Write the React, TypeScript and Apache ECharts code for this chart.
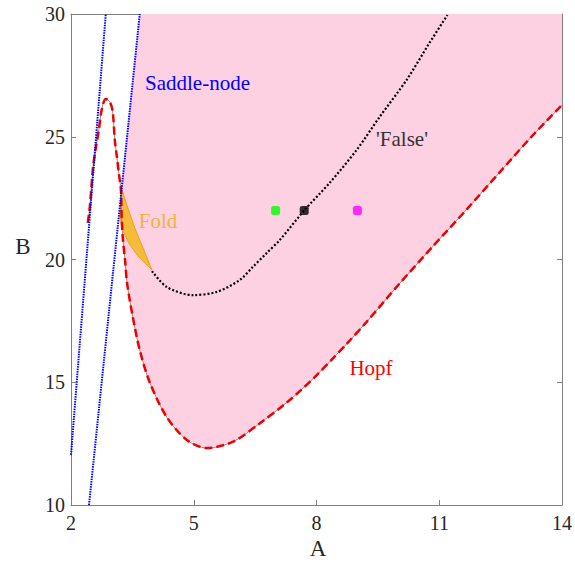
import React, { useEffect, useRef } from "react";
import * as echarts from "echarts";

const xTicks = [2, 5, 8, 11, 14];
const yTicks = [10, 15, 20, 25, 30];

const saddle1A = [2.0, 2.85];
const saddle1B = [12.04, 30];
const saddle2A = [2.44, 3.68];
const saddle2B = [10, 30];

const hopfA = [2.41, 2.46, 2.54, 2.61, 2.68, 2.75, 2.85, 2.95, 3.02, 3.07, 3.12, 3.17, 3.22, 3.24, 3.27, 3.32, 3.37, 3.51, 3.68, 3.93, 4.34, 4.83, 5.32, 5.95, 6.61, 7.27, 7.62, 8.0, 8.39, 8.76, 9.22, 10.02, 10.83, 11.66, 12.46, 13.27, 14.0];
const hopfB = [21.49, 22.14, 23.77, 24.58, 25.27, 26.1, 26.54, 26.42, 26.01, 24.87, 24.2, 23.5, 22.83, 21.61, 20.79, 19.98, 19.04, 17.66, 16.31, 14.97, 13.58, 12.65, 12.32, 12.57, 13.32, 14.17, 14.68, 15.28, 15.95, 16.6, 17.45, 19.0, 20.51, 22.02, 23.52, 25.03, 26.29];

const falseA = [3.98, 4.34, 4.98, 5.56, 6.12, 6.44, 6.78, 7.1, 7.71, 8.32, 8.98, 9.54, 10.2, 10.76, 11.2];
const falseB = [19.53, 18.88, 18.55, 18.68, 19.16, 19.69, 20.26, 20.79, 22.02, 23.12, 24.46, 25.8, 27.31, 28.82, 29.96];

const foldA = [3.22, 3.3, 3.42, 3.56, 3.78, 3.98, 3.63, 3.4, 3.25, 3.2];
const foldB = [23.0, 22.55, 21.95, 21.28, 20.39, 19.57, 20.15, 20.7, 21.25, 21.69];

const pointsA = [7.0, 7.7, 9.0];
const pointsB = [22, 22, 22];
const pointColors = ["#00ff00", "#000000", "#ff00ff"];

const FONT = "Times, 'DejaVu Serif', serif";

export default function App() {
  const ref = useRef<HTMLDivElement>(null);
  useEffect(() => {
    if (!ref.current) return;
    const chart = echarts.init(ref.current, undefined, { renderer: "svg" });

    const startIdx = 12;
    const pinkPts: number[][] = [[saddle2A[1], saddle2B[1]]];
    for (let i = startIdx; i < hopfA.length; i++) pinkPts.push([hopfA[i], hopfB[i]]);
    pinkPts.push([14, 30]);

    const foldPts = foldA.map((a, i) => [a, foldB[i]]);
    const zip = (a: number[], b: number[]) => a.map((v, i) => [v, b[i]]);

    const axisLineStyle = { color: "#808080", width: 1 };
    const labelStyle = { fontFamily: FONT, fontSize: 20, color: "#262626" };

    const polySeries = (pts: number[][], fill: string, stroke?: string) => ({
      type: "custom",
      coordinateSystem: "cartesian2d",
      silent: true,
      clip: true,
      z: 1,
      data: [pts[0]],
      renderItem: (_p: any, api: any) => ({
        type: "polygon",
        shape: { points: pts.map((p) => api.coord(p)) },
        style: { fill, stroke: stroke || "none", lineWidth: stroke ? 1 : 0 },
      }),
    });

    const txt = (x: number, y: number, text: string, fill: string, size: number, align = "center") => ({
      type: "text",
      x,
      y,
      z: 100,
      style: { text, fill, fontFamily: FONT, fontSize: size, align, verticalAlign: "middle" },
    });

    chart.setOption({
      animation: false,
      textStyle: { fontFamily: FONT },
      grid: { left: 71, right: 12, top: 14, bottom: 57 },
      xAxis: [
        {
          type: "value",
          min: 2,
          max: 14,
          axisLine: { lineStyle: axisLineStyle },
          axisTick: { inside: true, length: 5, customValues: xTicks, lineStyle: axisLineStyle },
          axisLabel: { customValues: xTicks, margin: 8, ...labelStyle },
          splitLine: { show: false },
        },
        {
          type: "value",
          position: "top",
          min: 2,
          max: 14,
          axisLine: { show: true, lineStyle: axisLineStyle },
          axisTick: { show: true, inside: true, length: 5, customValues: xTicks, lineStyle: axisLineStyle },
          axisLabel: { show: false },
          splitLine: { show: false },
        },
      ],
      yAxis: [
        {
          type: "value",
          min: 10,
          max: 30,
          interval: 5,
          axisLine: { show: true, lineStyle: axisLineStyle },
          axisTick: { show: true, inside: true, length: 5, lineStyle: axisLineStyle },
          axisLabel: { margin: 6, ...labelStyle, formatter: (v: number) => (yTicks.includes(v) ? String(v) : "") },
          splitLine: { show: false },
        },
        {
          type: "value",
          position: "right",
          min: 10,
          max: 30,
          interval: 5,
          axisLine: { show: true, lineStyle: axisLineStyle },
          axisTick: { show: true, inside: true, length: 5, lineStyle: axisLineStyle },
          axisLabel: { show: false },
          splitLine: { show: false },
        },
      ],
      series: [
        polySeries(pinkPts, "#fdd0e2"),
        polySeries(foldPts, "#f7bb3a", "#e9a21e"),
        {
          type: "line",
          data: zip(hopfA, hopfB),
          smooth: 0.3,
          showSymbol: false,
          lineStyle: { color: "#8c8c8c", width: 1 },
          silent: true,
        },
        {
          type: "line",
          data: zip(hopfA, hopfB),
          smooth: 0.3,
          showSymbol: false,
          lineStyle: { color: "#ee0000", width: 2.5, type: [8, 4] },
          silent: true,
        },
        {
          type: "line",
          data: zip(saddle1A, saddle1B),
          showSymbol: false,
          lineStyle: { color: "#0000ff", width: 2, type: [1.5, 1] },
          silent: true,
        },
        {
          type: "line",
          data: zip(saddle2A, saddle2B),
          showSymbol: false,
          lineStyle: { color: "#0000ff", width: 2, type: [1.5, 1] },
          silent: true,
        },
        {
          type: "line",
          data: zip(falseA, falseB),
          smooth: 0.3,
          showSymbol: false,
          lineStyle: { color: "#000000", width: 2.2, type: [2, 2] },
          silent: true,
        },
        {
          type: "scatter",
          symbol: "roundRect",
          symbolSize: 9,
          data: pointsA.map((a, i) => ({ value: [a, pointsB[i]], itemStyle: { color: pointColors[i] } })),
          silent: true,
        },
      ],
      graphic: [
        txt(145, 83, "Saddle-node", "#0000ff", 21, "left"),
        txt(402, 139, "'False'", "#333333", 21),
        txt(158, 221, "Fold", "#f0b43c", 21),
        txt(371, 368, "Hopf", "#ff0000", 21),
        txt(318, 548, "A", "#262626", 23),
        txt(23, 246, "B", "#262626", 23),
      ],
    });
    return () => chart.dispose();
  }, []);
  return <div ref={ref} style={{ width: 575, height: 562, position: "absolute", left: 0, top: 0 }} />;
}
